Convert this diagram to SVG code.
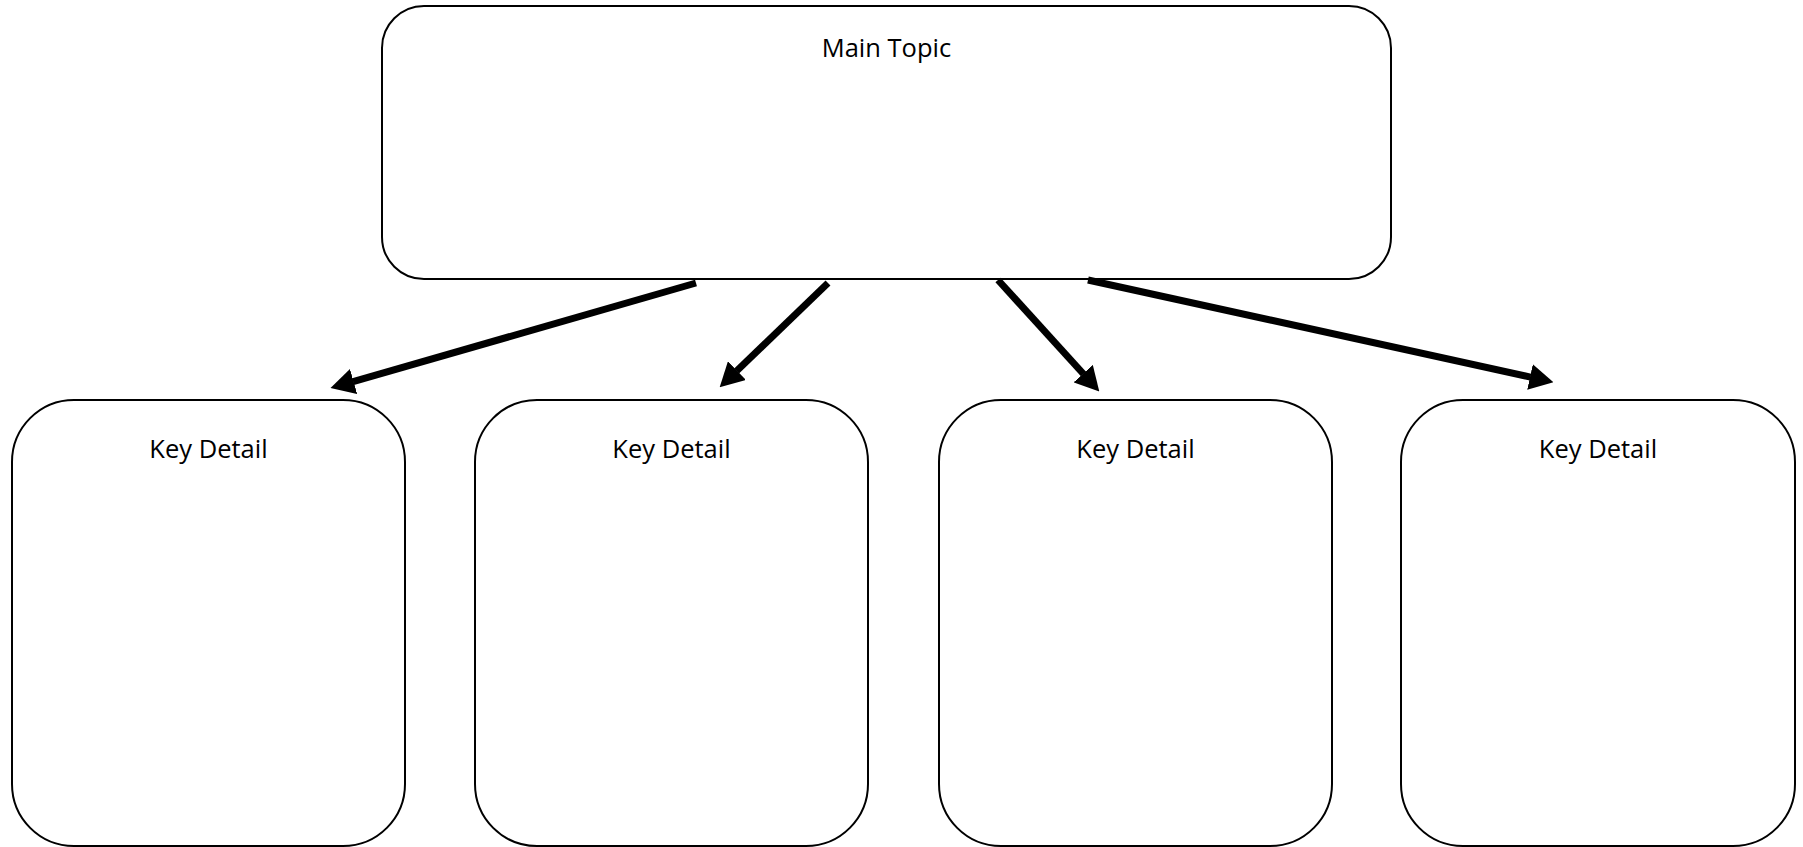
<svg xmlns="http://www.w3.org/2000/svg" width="1803" height="847" viewBox="0 0 1803 847">
  <style>
    .box { fill: #ffffff; stroke: #000000; stroke-width: 2; }
    .lbl { font-family: "Open Sans", "Liberation Sans", sans-serif; font-size: 25.5px; fill: #000000; text-anchor: middle; }
    .conn { stroke: #000000; stroke-width: 7; fill: none; marker-end: url(#arrow); }
  </style>
  <defs>
    <marker id="arrow" markerUnits="userSpaceOnUse" markerWidth="24" markerHeight="26" viewBox="0 0 24 26" refX="0.5" refY="13" orient="auto">
      <path d="M0,0 L24,13 L0,26 z" fill="#000000"/>
    </marker>
  </defs>
  <rect width="1803" height="847" fill="#ffffff"/>
  <g id="main-topic">
    <rect class="box" x="382" y="6" width="1009" height="273" rx="42" ry="42"/>
    <text class="lbl" x="886.5" y="57">Main Topic</text>
  </g>
  <g id="key-detail-1">
    <rect class="box" x="12" y="400" width="393" height="446" rx="62" ry="62"/>
    <text class="lbl" x="208.5" y="458">Key Detail</text>
  </g>
  <g id="key-detail-2">
    <rect class="box" x="475" y="400" width="393" height="446" rx="62" ry="62"/>
    <text class="lbl" x="671.5" y="458">Key Detail</text>
  </g>
  <g id="key-detail-3">
    <rect class="box" x="939" y="400" width="393" height="446" rx="62" ry="62"/>
    <text class="lbl" x="1135.5" y="458">Key Detail</text>
  </g>
  <g id="key-detail-4">
    <rect class="box" x="1401" y="400" width="394" height="446" rx="62" ry="62"/>
    <text class="lbl" x="1598" y="458">Key Detail</text>
  </g>
  <g id="connectors">
    <line class="conn" x1="696" y1="283" x2="353.1" y2="381.6"/>
    <line class="conn" x1="828" y1="283" x2="736.6" y2="371"/>
    <line class="conn" x1="998" y1="280" x2="1083.5" y2="374"/>
    <line class="conn" x1="1088" y1="280" x2="1530.5" y2="377.1"/>
  </g>
</svg>
